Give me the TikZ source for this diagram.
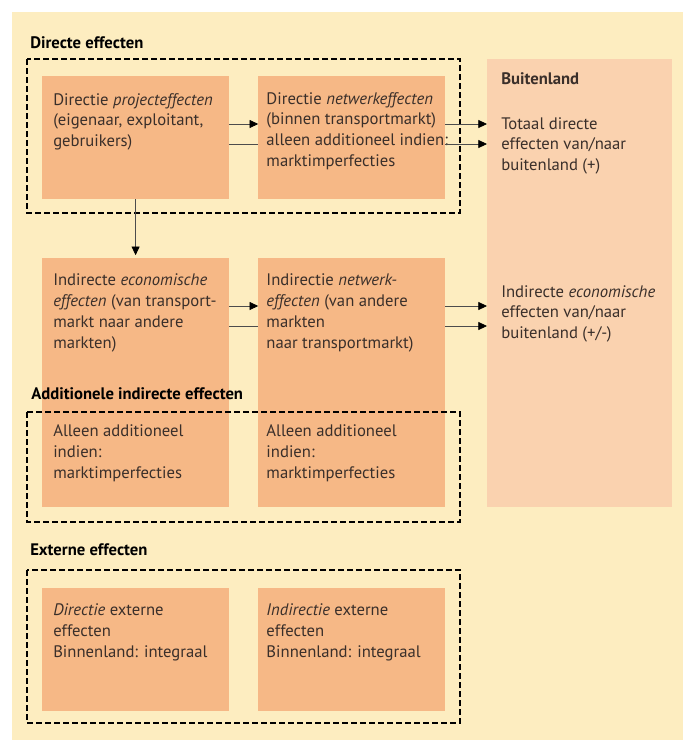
\documentclass[tikz,border=0pt]{standalone}
\usepackage{fontspec}
\setmainfont{PT Sans}
\usepackage{xcolor}
\usepackage{tikz}
\usetikzlibrary{arrows.meta,positioning,calc}

\definecolor{creme}{HTML}{FDEDC0}
\definecolor{oranje}{HTML}{F6B886}
\definecolor{perzik}{HTML}{FAD2AF}
\definecolor{tekst}{HTML}{3A2F2A}

\begin{document}
\begin{tikzpicture}[
    x=0.75pt, y=-0.75pt,
    node distance=44pt and 21.75pt,
    vak/.style={rectangle, fill=oranje, inner sep=0pt, minimum width=140pt},
    buiten/.style={rectangle, fill=perzik, inner sep=0pt, anchor=north west, minimum width=138.75pt, minimum height=336pt},
    txt/.style={anchor=north west, inner sep=0pt, align=left, text=tekst, font=\fontsize{12.5}{15.6}\selectfont},
    kop/.style={anchor=north west, inner sep=0pt, font=\bfseries\fontsize{12.5}{14}\selectfont},
    stippel/.style={draw=black, line width=1.5pt, dash pattern=on 4.5pt off 2.25pt},
    arr/.style={-{Triangle[length=6.5pt, width=6pt, color=black]}, line width=0.6pt, draw=black!70},
    lijn/.style={line width=0.6pt, draw=black!70}
]
    \useasboundingbox (0,0) rectangle (683,740);
    \fill [creme] (12,12) rectangle (683,740);

    % vakken
    \node [vak, minimum height=92pt, anchor=north west] (n1) at (42,76) {};
    \node [vak, minimum height=92pt, right=of n1] (n2) {};
    \node [vak, minimum height=187pt, below=of n1] (n3) {};
    \node [vak, minimum height=187pt, right=of n3] (n4) {};
    \node [vak, minimum height=92pt, below=60pt of n3] (n5) {};
    \node [vak, minimum height=92pt, right=of n5] (n6) {};
    \node [buiten] (n7) at (487,59) {};

    % teksten
    \node [txt] (t1) at ([shift={(11,17)}]n1.north west) {Directie \textit{projecteffecten}\\(eigenaar, exploitant,\\gebruikers)};
    \node [txt] (t2) at ([shift={(8,16)}]n2.north west) {Directie \textit{netwerkeffecten}\\(binnen transportmarkt)\\alleen additioneel indien:\\marktimperfecties};
    \node [txt] (t3) at ([shift={(11,16)}]n3.north west) {Indirecte \textit{economische}\\\textit{effecten} (van transport-\\markt naar andere\\markten)};
    \node [txt] (t4) at ([shift={(8,16)}]n4.north west) {Indirectie \textit{netwerk-}\\\textit{effecten} (van andere\\markten\\naar transportmarkt)};
    \node [txt] (t5) at ([shift={(11,167)}]n3.north west) {Alleen additioneel\\indien:\\marktimperfecties};
    \node [txt] (t6) at ([shift={(8,167)}]n4.north west) {Alleen additioneel\\indien:\\marktimperfecties};
    \node [txt] (t7) at ([shift={(11,16)}]n5.north west) {\textit{Directie} externe\\effecten\\Binnenland: integraal};
    \node [txt] (t8) at ([shift={(8,16)}]n6.north west) {\textit{Indirectie} externe\\effecten\\Binnenland: integraal};
    \node [kop, text=tekst] (t9) at ([shift={(14,13)}]n7.north west) {Buitenland};
    \node [txt] (t10) at ([shift={(14,58)}]n7.north west) {Totaal directe\\effecten van/naar\\buitenland (+)};
    \node [txt] (t11) at ([shift={(14,226)}]n7.north west) {Indirecte \textit{economische}\\effecten van/naar\\buitenland (+/-)};

    % kaders
    \draw [stippel] (27,59) rectangle (460,213);
    \draw [stippel] (27,412) rectangle (460,522);
    \draw [stippel] (27,570) rectangle (460,723);
    \node [kop] (k1) at (30,36) {Directe effecten};
    \node [kop] (k2) at (31,387) {Additionele indirecte effecten};
    \node [kop] (k3) at (30,543) {Externe effecten};

    % pijlen
    \coordinate (r1) at (0,124);
    \coordinate (r2) at (0,144);
    \coordinate (r3) at (0,306);
    \coordinate (r4) at (0,326);
    \draw [arr] (n1.east |- r1) -- (n2.west |- r1);
    \draw [lijn] (n1.east |- r2) -- (n2.west |- r2);
    \draw [arr] (n2.east |- r1) -- (n7.west |- r1);
    \draw [arr] (n2.east |- r2) -- (n7.west |- r2);
    \draw [arr] (n3.east |- r3) -- (n4.west |- r3);
    \draw [lijn] (n3.east |- r4) -- (n4.west |- r4);
    \draw [arr] (n4.east |- r3) -- (n7.west |- r3);
    \draw [arr] (n4.east |- r4) -- (n7.west |- r4);
    \draw [arr, shorten >=2pt] (n1.south) -- (n3.north);
\end{tikzpicture}
\end{document}
